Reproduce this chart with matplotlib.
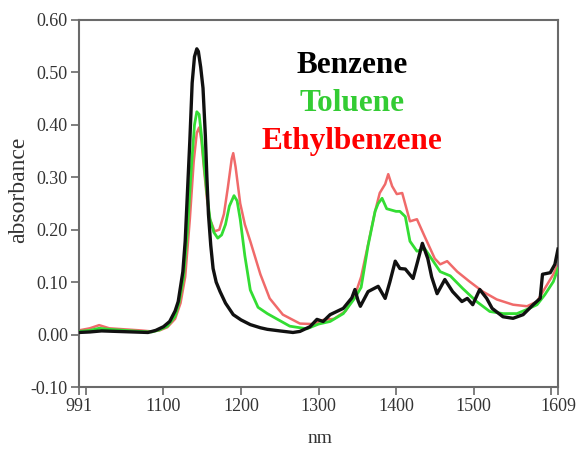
import matplotlib
matplotlib.use("Agg")
import matplotlib.pyplot as plt
import numpy as np

plt.rcParams['font.family'] = ['Liberation Serif', 'DejaVu Serif']
plt.rcParams['axes.unicode_minus'] = False

# Benzene (black)
benz_x = [991, 1005, 1020, 1040, 1060, 1080, 1090, 1100, 1108, 1115, 1119, 1125, 1128, 1134, 1137, 1140,
          1143, 1145, 1148, 1151, 1154, 1156, 1158, 1161, 1164, 1168, 1173, 1180, 1190, 1200, 1212, 1225,
          1234, 1250, 1267, 1276, 1289, 1298, 1306, 1315, 1332, 1343, 1347, 1351, 1354, 1364, 1377, 1386,
          1392, 1399, 1405, 1412, 1422, 1428, 1434, 1441, 1446, 1453, 1463, 1473, 1485, 1492, 1499, 1508,
          1517, 1524, 1538, 1551, 1564, 1577, 1586, 1589, 1599, 1605, 1609]
benz_y = [0.004, 0.005, 0.007, 0.006, 0.005, 0.004, 0.008, 0.015, 0.025, 0.045, 0.063, 0.12, 0.178, 0.37, 0.48, 0.53,
          0.545, 0.54, 0.51, 0.47, 0.38, 0.30, 0.23, 0.17, 0.126, 0.10, 0.082, 0.06, 0.038, 0.028, 0.019, 0.013,
          0.010, 0.007, 0.004, 0.006, 0.015, 0.029, 0.025, 0.038, 0.05, 0.07, 0.086, 0.065, 0.054, 0.082, 0.092, 0.069,
          0.10, 0.14, 0.126, 0.125, 0.107, 0.14, 0.174, 0.145, 0.11, 0.078, 0.105, 0.082, 0.063, 0.069, 0.057, 0.086,
          0.069, 0.05, 0.034, 0.031, 0.038, 0.057, 0.069, 0.115, 0.118, 0.134, 0.163]

# Toluene (green)
tol_x = [991, 1005, 1017, 1030, 1050, 1070, 1085, 1095, 1105, 1115, 1120, 1126, 1131, 1136, 1140, 1143,
         1146, 1149, 1152, 1156, 1160, 1165, 1170, 1175, 1180, 1185, 1191, 1195, 1199, 1205, 1212, 1222,
         1234, 1246, 1263, 1285, 1300, 1315, 1332, 1347, 1355, 1364, 1373, 1377, 1382, 1388, 1400, 1405,
         1412, 1418, 1427, 1437, 1448, 1457, 1470, 1486, 1504, 1521, 1538, 1556, 1569, 1582, 1592, 1603, 1609]
tol_y = [0.006, 0.008, 0.012, 0.010, 0.008, 0.006, 0.005, 0.009, 0.016, 0.035, 0.06, 0.11, 0.20, 0.32, 0.40, 0.425,
         0.42, 0.38, 0.33, 0.27, 0.22, 0.195, 0.184, 0.19, 0.21, 0.245, 0.265, 0.255, 0.22, 0.15, 0.085, 0.052,
         0.04, 0.03, 0.016, 0.011, 0.02, 0.025, 0.04, 0.07, 0.09, 0.17, 0.235, 0.25, 0.26, 0.24, 0.235, 0.235,
         0.225, 0.178, 0.159, 0.164, 0.14, 0.12, 0.112, 0.088, 0.063, 0.044, 0.04, 0.04, 0.048, 0.057, 0.076, 0.101, 0.126]

# Ethylbenzene (red)
eth_x = [991, 1005, 1017, 1030, 1050, 1070, 1085, 1095, 1105, 1115, 1122, 1128, 1134, 1139, 1143, 1146,
         1149, 1152, 1156, 1160, 1166, 1172, 1178, 1183, 1188, 1190, 1193, 1199, 1205, 1212, 1225, 1237,
         1254, 1276, 1293, 1306, 1320, 1335, 1347, 1355, 1364, 1373, 1379, 1386, 1390, 1395, 1401, 1408,
         1418, 1427, 1437, 1450, 1457, 1466, 1479, 1495, 1512, 1530, 1551, 1569, 1582, 1592, 1603, 1609]
eth_y = [0.008, 0.012, 0.018, 0.012, 0.010, 0.008, 0.006, 0.008, 0.014, 0.03, 0.06, 0.11, 0.22, 0.33, 0.385, 0.395,
         0.37, 0.32, 0.26, 0.22, 0.197, 0.20, 0.23, 0.28, 0.335, 0.346, 0.32, 0.25, 0.21, 0.178, 0.115, 0.069,
         0.038, 0.021, 0.02, 0.028, 0.03, 0.045, 0.075, 0.11, 0.172, 0.235, 0.27, 0.287, 0.306, 0.283, 0.268, 0.27,
         0.216, 0.22, 0.187, 0.145, 0.134, 0.14, 0.12, 0.101, 0.082, 0.067, 0.057, 0.054, 0.063, 0.088, 0.115, 0.135]

x_ticks = [991, 1100, 1200, 1300, 1400, 1500, 1609]
x_minor = [1000, 1600]
y_ticks = [-0.10, 0.00, 0.10, 0.20, 0.30, 0.40, 0.50, 0.60]

fig = plt.figure(figsize=(5.77, 4.51), dpi=100)
ax = fig.add_axes([79/577, 1-387/451, 479/577, 367/451])

ax.plot(eth_x, eth_y, color='#f06a6a', lw=1.8, zorder=2)
ax.plot(tol_x, tol_y, color='#33dd33', lw=2.0, zorder=3)
ax.plot(benz_x, benz_y, color='#111111', lw=2.4, zorder=4)

ax.set_xlim(991, 1609)
ax.set_ylim(-0.1, 0.6)
ax.set_xticks(x_ticks)
ax.set_xticklabels([str(t) for t in x_ticks])
ax.set_xticks(x_minor, minor=True)
ax.set_yticks(y_ticks)
ax.set_yticklabels(['%.2f' % t for t in y_ticks])

for s in ax.spines.values():
    s.set_color('#6a6a6a')
    s.set_linewidth(1.5)
ax.tick_params(axis='both', which='major', direction='out', length=6, width=1.2,
               color='#6a6a6a', labelsize=13, labelcolor='#333333', pad=2)
ax.tick_params(axis='x', which='minor', direction='out', length=6, width=1.2, color='#6a6a6a')

ax.set_ylabel('absorbance', fontsize=17, color='#333333')
ax.yaxis.set_label_coords(-0.105, 0.537)
ax.set_xlabel('nm', fontsize=14, color='#333333')
ax.xaxis.set_label_coords(0.503, -0.118)

fig.text(352/577, 1-73/451, 'Benzene', color='black', fontsize=22.5, fontweight='bold',
         ha='center', va='baseline')
fig.text(352/577, 1-111/451, 'Toluene', color='#33cc33', fontsize=22.5, fontweight='bold',
         ha='center', va='baseline')
fig.text(352/577, 1-149/451, 'Ethylbenzene', color='#ff0000', fontsize=22.5, fontweight='bold',
         ha='center', va='baseline')

fig.savefig('out.png', dpi=100)
